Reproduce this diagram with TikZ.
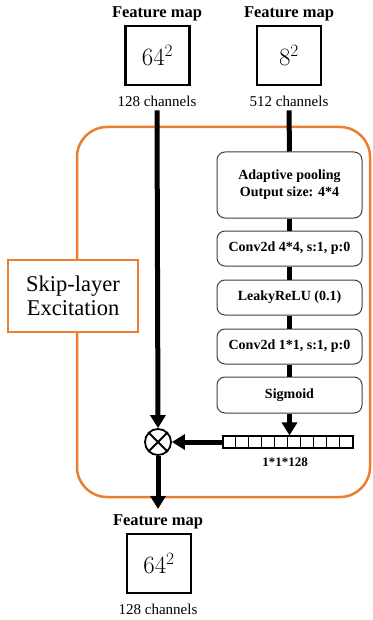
\documentclass[tikz,border=0pt]{standalone}
\usepackage{fontspec}
\setmainfont{Liberation Serif}
\usetikzlibrary{arrows.meta,calc}
\definecolor{skorange}{RGB}{237,125,49}
\begin{document}
\begin{tikzpicture}[x=1pt,y=-1pt,
  fmlabel/.style={font=\bfseries\fontsize{16.5}{18}\selectfont, inner sep=0},
  chlabel/.style={font=\fontsize{15}{17}\selectfont, inner sep=0},
  fmbox/.style={draw, line width=2.2pt, minimum width=64pt, minimum height=59pt, inner sep=0, font=\fontsize{26}{28}\selectfont},
  layerbox/.style={draw=black!75, line width=1pt, rounded corners=8pt, minimum width=145pt, align=center, inner sep=0, fill=white, font=\bfseries\fontsize{14}{17}\selectfont},
  flow/.style={line width=5pt},
  flowarrow/.style={line width=5pt, -{Triangle[length=13pt,width=15pt]}},
  sebox/.style={draw=skorange, line width=2.5pt, fill=white, minimum width=130pt, minimum height=72pt, align=center, font=\fontsize{22.5}{24}\selectfont, inner sep=0},
]
\useasboundingbox (0,0) rectangle (372,620);
% orange container
\draw[skorange, line width=2.5pt, rounded corners=30pt] (77,127) rectangle (370,497);
% top left feature map
\node[fmlabel] (fl1) at (157,14) {Feature map};
\node[fmbox] (fb1) at (157.5,55.5) {$64^2$};
\node[chlabel] (ch1) at (157,101) {128 channels};
% top right feature map
\node[fmlabel] (fl2) at (289,14) {Feature map};
\node[fmbox] (fb2) at (289,55.5) {$8^2$};
\node[chlabel] (ch2) at (289,101) {512 channels};
% layer boxes
\node[layerbox, minimum height=66pt] (pool) at (289.5,185) {Adaptive pooling\\Output size: 4*4};
\node[layerbox, minimum height=35pt] (conv4) at (289.5,248.5) {Conv2d 4*4, s:1, p:0};
\node[layerbox, minimum height=35pt] (leaky) at (289.5,297.5) {LeakyReLU (0.1)};
\node[layerbox, minimum height=35pt] (conv1) at (289.5,346.5) {Conv2d 1*1, s:1, p:0};
\node[layerbox, minimum height=36pt] (sig) at (289.5,395) {Sigmoid};
% strip
\node[draw, line width=1.2pt, minimum width=130pt, minimum height=12pt, inner sep=0] (strip) at (288,442) {};
\foreach \i in {1,...,9} {\draw[line width=1.2pt] ($(strip.north west)+(13*\i,0)$) -- ($(strip.south west)+(13*\i,0)$);}
\node[font=\bfseries\fontsize{13}{15}\selectfont, inner sep=0] (stripl) at (285,462) {1*1*128};
% otimes
\node[circle, draw, line width=1.8pt, minimum size=26pt, inner sep=0] (mul) at (158,442) {};
\draw[line width=1.8pt] (mul.north west) -- (mul.south east);
\draw[line width=1.8pt] (mul.north east) -- (mul.south west);
% skip-layer label
\node[sebox] (se) at (73,296) {Skip-layer\\Excitation};
% bottom feature map
\node[fmlabel] (fl3) at (158,522) {Feature map};
\node[fmbox] (fb3) at (159,563.5) {$64^2$};
\node[chlabel] (ch3) at (158,609) {128 channels};
\coordinate (outend) at (158,509);
% connectors
\draw[flowarrow] ([yshift=-4pt]ch1.south) -- (mul.north);
\draw[flow] ([yshift=-4pt]ch2.south) -- (pool.north);
\draw[flow] (pool.south) -- (conv4.north);
\draw[flow] (conv4.south) -- (leaky.north);
\draw[flow] (leaky.south) -- (conv1.north);
\draw[flow] (conv1.south) -- (sig.north);
\draw[flowarrow] (sig.south) -- (strip.north -| sig.south);
\draw[flowarrow] (strip.west) -- (mul.east);
\draw[flowarrow] (mul.south) -- (outend);
\end{tikzpicture}
\end{document}
